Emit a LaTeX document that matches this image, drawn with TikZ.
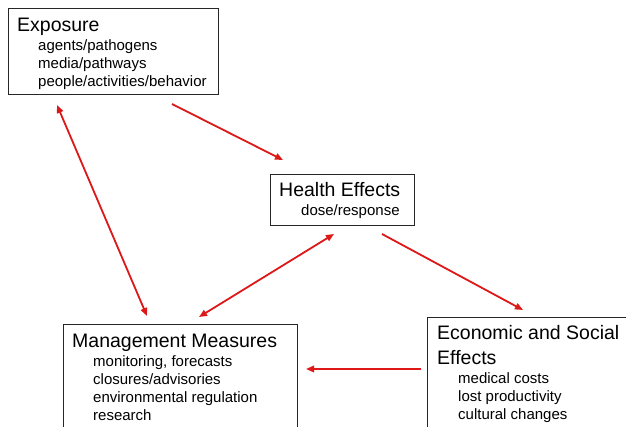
\documentclass[tikz,border=0pt]{standalone}
\usepackage{fontspec}
\setmainfont{Liberation Sans}
\usetikzlibrary{arrows.meta,calc}
\begin{document}
\begin{tikzpicture}[x=1pt,y=-1pt,
  box/.style={draw=black!85, line width=1pt, inner sep=0pt, anchor=north west, fill=white},
  ttl/.style={anchor=base west, inner sep=0pt, font=\fontsize{19.5}{22}\selectfont},
  sub/.style={anchor=base west, inner sep=0pt, font=\fontsize{15}{18}\selectfont},
  arr/.style={draw={rgb,255:red,222;green,24;blue,24}, line width=1.8pt, -{Triangle[length=8pt,width=6.5pt]}},
  darr/.style={draw={rgb,255:red,222;green,24;blue,24}, line width=1.8pt, {Triangle[length=8pt,width=6.5pt]}-{Triangle[length=8pt,width=6.5pt]}}]
\clip (0,0) rectangle (626,427);
\fill[white] (0,0) rectangle (626,427);
% boxes
\node[box, minimum width=210pt, minimum height=86pt] (expo) at (8,8) {};
\node[box, minimum width=144pt, minimum height=51pt] (health) at (270,174) {};
\node[box, minimum width=234pt, minimum height=130pt] (mgmt) at (63,324) {};
\node[box, minimum width=240pt, minimum height=130pt] (econ) at (427,317) {};
% texts
\node[ttl] (t1) at (17,32) {Exposure};
\node[sub] (t1a) at (38,51) {agents/pathogens};
\node[sub] (t1b) at (38,69) {media/pathways};
\node[sub] (t1c) at (38,87) {people/activities/behavior};
\node[ttl] (t2) at (279,197) {Health Effects};
\node[sub] (t2a) at (301,216) {dose/response};
\node[ttl] (t3) at (72,347) {Management Measures};
\node[sub] (t3a) at (93,366) {monitoring, forecasts};
\node[sub] (t3b) at (93,384) {closures/advisories};
\node[sub] (t3c) at (93,402) {environmental regulation};
\node[sub] (t3d) at (93,420) {research};
\node[ttl] (t4) at (437,340) {Economic and Social};
\node[ttl] (t4b) at (437,364) {Effects};
\node[sub] (t4c) at (458,383) {medical costs};
\node[sub] (t4d) at (458,401) {lost productivity};
\node[sub] (t4e) at (458,419) {cultural changes};
% arrows
\draw[arr] ($(expo.south west)+(164,9)$) -- ($(health.north west)+(13,-14)$);
\draw[darr] ($(expo.south west)+(49,10)$) -- ($(mgmt.north west)+(84,-8)$);
\draw[darr] ($(health.south west)+(64,8)$) -- ($(mgmt.north west)+(136,-7)$);
\draw[arr] ($(health.south west)+(112,8)$) -- ($(econ.north west)+(96,-7)$);
\draw[arr] ($(econ.north west)+(-6,52)$) -- ($(mgmt.north east)+(8,45)$);
\end{tikzpicture}
\end{document}
